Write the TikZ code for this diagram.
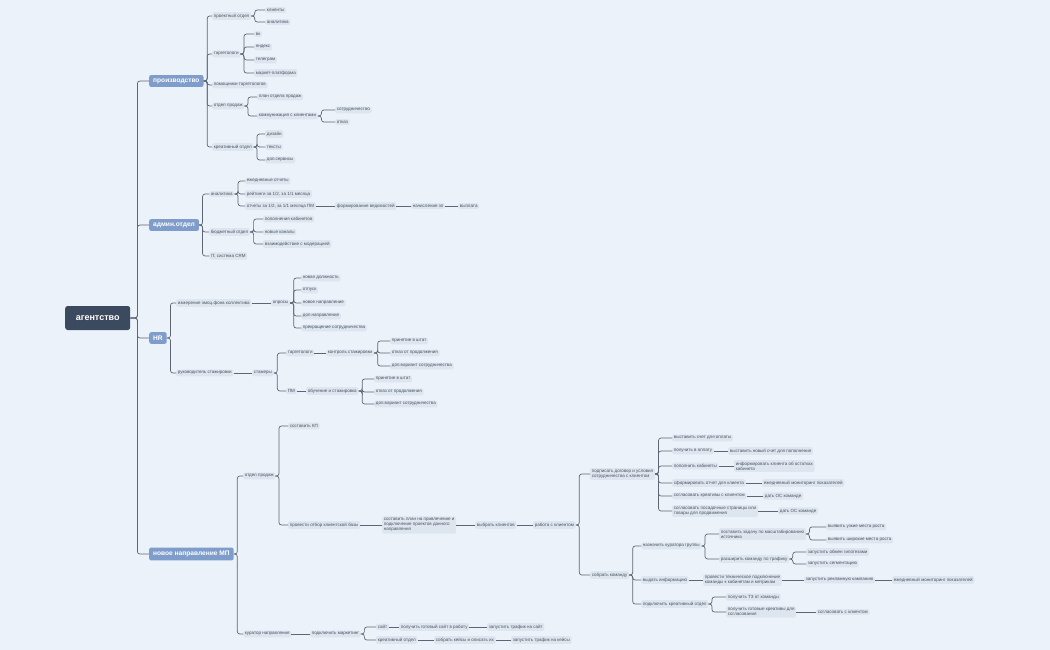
\documentclass[tikz,border=0pt]{standalone}
\usepackage{fontspec}
\setmainfont{Liberation Sans}
\definecolor{bg}{HTML}{EBF2FA}
\definecolor{leaf}{HTML}{DDE5EF}
\definecolor{txt}{HTML}{4A5260}
\definecolor{ln}{HTML}{5E6673}
\definecolor{lvl}{HTML}{7F9DCB}
\definecolor{rootc}{HTML}{3B4A5E}
\newcommand\lk[2]{\draw[link] (#1.east) -- ++(3.5,0) |- (#2.west);}
\newcommand\lkr[2]{\draw[link] (#1.east) -- ++(7,0) |- (#2.west);}
\newcommand\ch[2]{\draw[link] (#1.east) -- (#2.west);}
\begin{document}
\begin{tikzpicture}[x=1pt,y=-1pt,
 n/.style={anchor=west,fill=leaf,rounded corners=1.5pt,inner sep=1.7pt,text=txt,font=\fontsize{4.5}{5.2}\selectfont,align=left},
 l1/.style={anchor=west,fill=lvl,rounded corners=2pt,inner xsep=4pt,inner ysep=3.5pt,text=white,font=\fontsize{6.6}{7.5}\selectfont\bfseries},
 link/.style={draw=ln,line width=0.7pt,rounded corners=2.5pt}]
\fill[bg] (0,0) rectangle (1050,650);
\useasboundingbox (0,0) rectangle (1050,650);
\node[anchor=west,fill=rootc,rounded corners=2.5pt,minimum width=65,minimum height=24,text=white,font=\fontsize{9}{10}\selectfont\bfseries] (r) at (65,318) {агентство};
\node[l1] (p) at (149,81) {производство};
\node[l1] (a) at (149,225) {админ.отдел};
\node[l1] (h) at (149,338) {HR};
\node[l1] (m) at (149,554) {новое направление МП};
\foreach \c in {p,a,h,m} {\lkr{r}{\c}}
% production
\node[n] (p1) at (212,16) {проектный отдел};
\node[n] (p11) at (265,10) {клиенты};
\node[n] (p12) at (265,22) {аналитика};
\node[n] (p2) at (212,54) {таргетологи};
\node[n] (p21) at (254,34) {вк};
\node[n] (p22) at (254,47) {яндекс};
\node[n] (p23) at (254,60) {телеграм};
\node[n] (p24) at (254,73) {маркет-платформа};
\node[n] (p3) at (212,85) {помощники таргетологов};
\node[n] (p4) at (212,106) {отдел продаж};
\node[n] (p41) at (257,97) {план отдела продаж};
\node[n] (p42) at (257,116) {коммуникация с клиентами};
\node[n] (p421) at (335,110) {сотрудничество};
\node[n] (p422) at (335,122) {отказ};
\node[n] (p5) at (212,147) {креативный отдел};
\node[n] (p51) at (265,134) {дизайн};
\node[n] (p52) at (265,147) {тексты};
\node[n] (p53) at (265,160) {доп.сервисы};
\foreach \c in {p1,p2,p3,p4,p5} {\lk{p}{\c}}
\foreach \c in {p11,p12} {\lk{p1}{\c}}
\foreach \c in {p21,p22,p23,p24} {\lk{p2}{\c}}
\foreach \c in {p41,p42} {\lk{p4}{\c}}
\foreach \c in {p421,p422} {\lk{p42}{\c}}
\foreach \c in {p51,p52,p53} {\lk{p5}{\c}}
% admin
\node[n] (a1) at (209,194) {аналитика};
\node[n] (a11) at (245,181) {ежедневные отчеты};
\node[n] (a12) at (245,194) {рейтинги за 1/2, за 1/1 месяца};
\node[n] (a13) at (245,206) {отчеты за 1/2, за 1/1 месяца ПМ};
\node[n] (a14) at (335,206) {формирование ведомостей};
\node[n] (a15) at (411,206) {начисление зп};
\node[n] (a16) at (458,206) {выплата};
\node[n] (a2) at (209,232) {бюджетный отдел};
\node[n] (a21) at (263,219) {пополнения кабинетов};
\node[n] (a22) at (263,232) {новые каналы};
\node[n] (a23) at (263,244) {взаимодействие с модерацией};
\node[n] (a3) at (209,256) {IT, система CRM};
\foreach \c in {a1,a2,a3} {\lk{a}{\c}}
\foreach \c in {a11,a12,a13} {\lk{a1}{\c}}
\ch{a13}{a14} \ch{a14}{a15} \ch{a15}{a16}
\foreach \c in {a21,a22,a23} {\lk{a2}{\c}}
% HR
\node[n] (h1) at (176,303) {измерение эмоц.фона коллектива};
\node[n] (h11) at (271,303) {опросы};
\node[n] (h111) at (301,278) {новая должность};
\node[n] (h112) at (301,290) {отпуск};
\node[n] (h113) at (301,303) {новое направление};
\node[n] (h114) at (301,316) {доп.направление};
\node[n] (h115) at (301,328) {прекращение сотрудничества};
\node[n] (h2) at (176,373) {руководитель стажировки};
\node[n] (h21) at (252,373) {стажеры};
\node[n] (h22) at (286,353) {таргетологи};
\node[n] (h23) at (326,353) {контроль стажировки};
\node[n] (h231) at (390,341) {принятие в штат};
\node[n] (h232) at (390,353) {отказ от продолжения};
\node[n] (h233) at (390,366) {доп.вариант сотрудничества};
\node[n] (h24) at (286,391) {ПМ};
\node[n] (h25) at (306,391) {обучение и стажировка};
\node[n] (h251) at (374,379) {принятие в штат};
\node[n] (h252) at (374,392) {отказ от продолжения};
\node[n] (h253) at (374,404) {доп.вариант сотрудничества};
\foreach \c in {h1,h2} {\lk{h}{\c}}
\ch{h1}{h11}
\foreach \c in {h111,h112,h113,h114,h115} {\lk{h11}{\c}}
\ch{h2}{h21} \lk{h21}{h22} \lk{h21}{h24} \ch{h22}{h23} \ch{h24}{h25}
\foreach \c in {h231,h232,h233} {\lk{h23}{\c}}
\foreach \c in {h251,h252,h253} {\lk{h25}{\c}}
% MP
\node[n] (m1) at (243,476) {отдел продаж};
\node[n] (m11) at (288,426) {составить КП};
\node[n] (m12) at (288,525) {провести отбор клиентской базы};
\node[n] (m13) at (382,525) {составить план на привлечение и\\подключение проектов данного\\направления};
\node[n] (m14) at (475,525) {выбрать клиентов};
\node[n] (m15) at (533,525) {работа с клиентом};
\node[n] (s) at (590,474) {подписать договор и условия\\сотрудничества с клиентом};
\node[n] (s1) at (672,438) {выставить счет для оплаты};
\node[n] (s2) at (672,451) {получить в оплату};
\node[n] (s2a) at (728,451) {выставить новый счет для пополнения};
\node[n] (s3) at (672,466) {пополнить кабинеты};
\node[n] (s3a) at (734,466) {информировать клиента об остатках\\кабинета};
\node[n] (s4) at (672,483) {сформировать отчет для клиента};
\node[n] (s4a) at (762,483) {ежедневный мониторинг показателей};
\node[n] (s5) at (672,496) {согласовать креативы с клиентом};
\node[n] (s5a) at (763,496) {дать ОС команде};
\node[n] (s6) at (672,511) {согласовать посадочные страницы или\\товары для продвижения};
\node[n] (s6a) at (778,511) {дать ОС команде};
\node[n] (k) at (590,575) {собрать команду};
\node[n] (k1) at (641,546) {назначить куратора группы};
\node[n] (k11) at (719,534) {поставить задачу по масштабированию\\источника};
\node[n] (k111) at (826,527) {выявить узкие места роста};
\node[n] (k112) at (826,540) {выявить широкие места роста};
\node[n] (k12) at (719,559) {расширить команду по трафику};
\node[n] (k121) at (806,552) {запустить обмен гипотезами};
\node[n] (k122) at (806,564) {запустить сегментацию};
\node[n] (k2) at (641,580) {выдать информацию};
\node[n] (k21) at (703,580) {провести техническое подключение\\команды к кабинетам и метрикам};
\node[n] (k22) at (804,580) {запустить рекламную кампанию};
\node[n] (k23) at (892,580) {ежедневный мониторинг показателей};
\node[n] (k3) at (641,604) {подключить креативный отдел};
\node[n] (k31) at (726,597) {получить ТЗ от команды};
\node[n] (k32) at (726,612) {получить готовые креативы для\\согласования};
\node[n] (k33) at (816,612) {согласовать с клиентом};
\node[n] (m2) at (243,634) {куратор направления};
\node[n] (m21) at (310,634) {подключить маркетинг};
\node[n] (m22) at (376,627) {сайт};
\node[n] (m23) at (399,627) {получить готовый сайт в работу};
\node[n] (m24) at (487,627) {запустить трафик на сайт};
\node[n] (m25) at (376,640) {креативный отдел};
\node[n] (m26) at (434,640) {собрать кейсы и описать их};
\node[n] (m27) at (511,640) {запустить трафик на кейсы};
\foreach \c in {m1,m2} {\lk{m}{\c}}
\foreach \c in {m11,m12} {\lk{m1}{\c}}
\ch{m12}{m13} \ch{m13}{m14} \ch{m14}{m15}
\foreach \c in {s,k} {\lk{m15}{\c}}
\foreach \c in {s1,s2,s3,s4,s5,s6} {\lk{s}{\c}}
\ch{s2}{s2a} \ch{s3}{s3a} \ch{s4}{s4a} \ch{s5}{s5a} \ch{s6}{s6a}
\foreach \c in {k1,k2,k3} {\lk{k}{\c}}
\foreach \c in {k11,k12} {\lk{k1}{\c}}
\foreach \c in {k111,k112} {\lk{k11}{\c}}
\foreach \c in {k121,k122} {\lk{k12}{\c}}
\ch{k2}{k21} \ch{k21}{k22} \ch{k22}{k23}
\foreach \c in {k31,k32} {\lk{k3}{\c}}
\ch{k32}{k33}
\ch{m2}{m21} \lk{m21}{m22} \lk{m21}{m25} \ch{m22}{m23} \ch{m23}{m24} \ch{m25}{m26} \ch{m26}{m27}
\end{tikzpicture}
\end{document}
